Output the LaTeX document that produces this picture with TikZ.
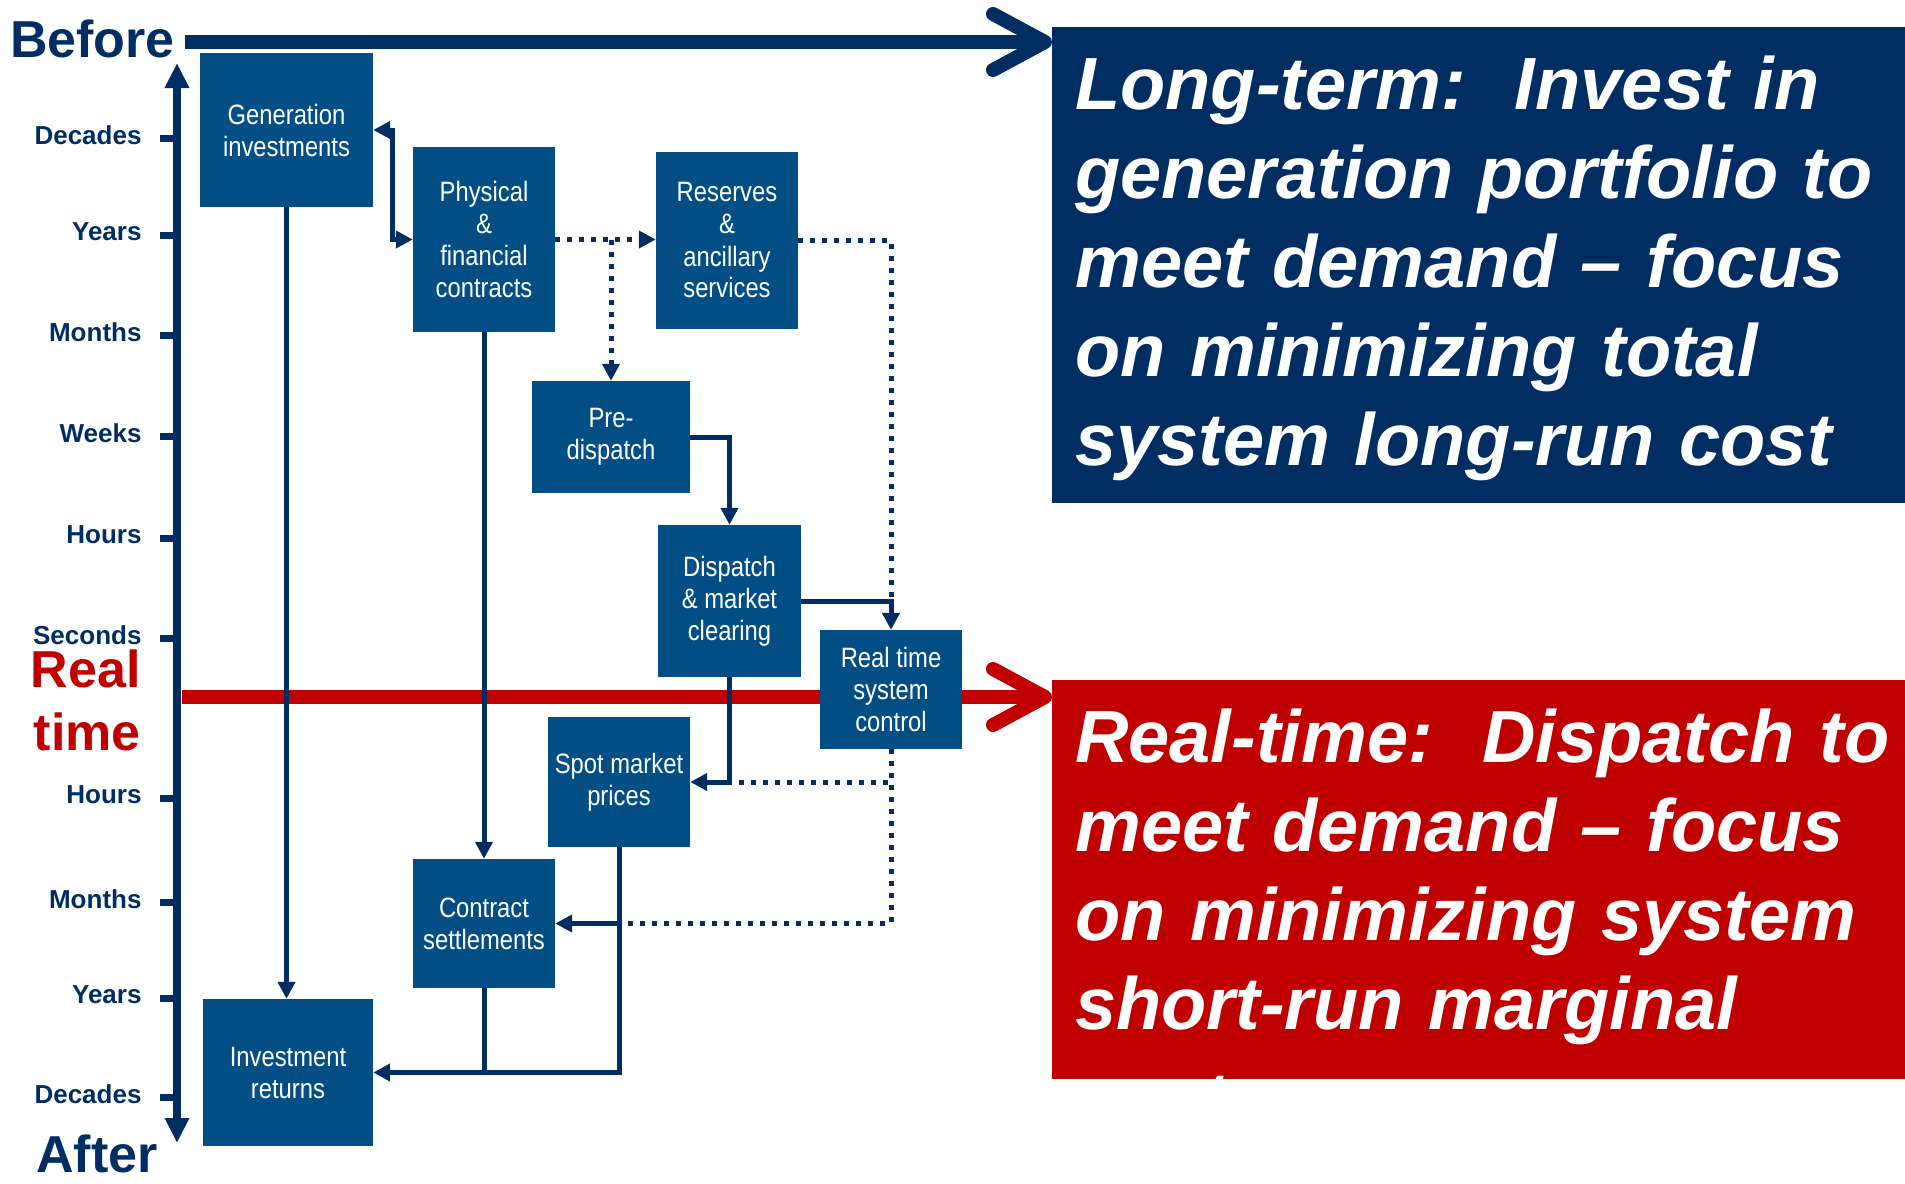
\documentclass[tikz,border=0pt]{standalone}
\usepackage{fontspec}
\setmainfont{Liberation Sans}
\newfontfamily\narrowfont[FakeStretch=0.85]{Liberation Sans}
\usetikzlibrary{arrows.meta, positioning}
\definecolor{navy}{RGB}{0,46,98}
\definecolor{boxblue}{RGB}{2,78,133}
\definecolor{rtred}{RGB}{192,0,0}
\tikzstyle{block} = [rectangle, fill=boxblue, text=white, inner sep=0pt, align=center, font=\narrowfont\fontsize{28}{32}\selectfont]
\tikzstyle{summary} = [rectangle, text=white, anchor=north west, inner xsep=23pt, inner ysep=29pt, text width=830pt, align=left, font=\bfseries\itshape\fontsize{74}{89}\selectfont\frenchspacing]
\tikzstyle{era} = [inner sep=0pt, text=navy, font=\bfseries\fontsize{52}{63}\selectfont]
\tikzstyle{timescale} = [inner sep=0pt, text=navy, font=\bfseries\fontsize{26}{30}\selectfont]
\tikzstyle{tickmark} = [line width=7pt, navy]
\tikzstyle{time axis} = [{Triangle[length=25pt, width=23pt]}-{Triangle[length=25pt, width=23pt]}, line width=8pt, navy]
\tikzstyle{timeline} = [-{Straight Barb[round, length=52pt, width=56pt]}, line width=14pt]
\tikzstyle{link} = [-{Triangle[length=17pt, width=17pt]}, line width=5pt, navy]
\tikzstyle{dotted link} = [link, dash pattern=on 5pt off 7pt]

\begin{document}
\begin{tikzpicture}[x=1pt, y=-1pt]
    \useasboundingbox (0,0) rectangle (1905,1183);

    % Goals on the right.
    \begin{scope}
        \clip (1052,27) rectangle (1905,502);
        \node (long term) [summary, fill=navy] at (1052,27) {Long-term:~ Invest in\\generation portfolio to\\meet demand – focus\\on minimizing total\\system long-run cost};
    \end{scope}
    \begin{scope}
        \clip (1052,680) rectangle (1905,1078);
        \node (real time) [summary, fill=rtred] at (1052,680) {Real-time:~ Dispatch to\\meet demand – focus\\on minimizing system\\short-run marginal\\[6pt]cost};
    \end{scope}

    % Time axis.
    \node (before) [era, anchor=base west] at (10,57) {Before};
    \node (after) [era, anchor=base west] at (36,1172) {After};
    \node (now label) [era, text=rtred, align=right, anchor=north east] at (141,650) {Real\\time};

    \coordinate (axis top) at (177,63);
    \coordinate (axis bottom) at (177,1143);
    \draw [time axis] (axis bottom) -- (axis top);
    \foreach \y/\t in {138/Decades, 235/Years, 335/Months, 436/Weeks, 538/Hours, 638/Seconds, 798/Hours, 902/Months, 998/Years, 1097/Decades} {%
        \draw [tickmark] (177,\y) -- ++(-17,0) node [timescale, left=15pt, yshift=3pt] {\t};
    }

    \coordinate (then) at (185,42);
    \coordinate (now) at (182,697);
    \draw [timeline, navy] (then) -- (then -| long term.west);
    \draw [timeline, rtred] (now) -- (now -| real time.west);

    % Market stages.
    \node (gen) [block, minimum width=173pt, minimum height=154pt] at (286.5,130) {Generation\\investments};
    \node (phys) [block, minimum width=142pt, minimum height=185pt] at (484,239.5) {Physical\\\&\\financial\\contracts};
    \node (reserves) [block, minimum width=142pt, minimum height=177pt] at (727,240.5) {Reserves\\\&\\ancillary\\services};
    \node (pre) [block, minimum width=158pt, minimum height=112pt] at (611,437) {Pre-\\dispatch};
    \node (dispatch) [block, minimum width=143pt, minimum height=152pt] at (729.5,601) {Dispatch\\\& market\\clearing};
    \node (control) [block, minimum width=142pt, minimum height=119pt] at (891,689.5) {Real time\\system\\control};
    \node (spot) [block, minimum width=142pt, minimum height=130pt] at (619,782) {Spot market\\prices};
    \node (settle) [block, minimum width=142pt, minimum height=129pt] at (484,923.5) {Contract\\settlements};
    \node (returns) [block, minimum width=170pt, minimum height=147pt] at (288,1072.5) {Investment\\returns};

    \coordinate (branch) at (pre.north |- phys.east);
    \coordinate (merge) at (control.north |- dispatch.east);
    \coordinate (price tap) at (dispatch.south |- spot.east);
    \coordinate (settle tap) at (spot.south |- settle.east);
    \coordinate (payout) at (settle.south |- returns.east);

    % Dotted links.
    \draw [dotted link] (phys.east) -- (phys.east -| reserves.west);
    \draw [dotted link] (branch) -- (pre.north);
    \draw [dotted link, -] (reserves.east) -| (merge);
    \draw [dotted link, -] (control.south) |- (price tap);
    \draw [dotted link, -] (control.south) |- (settle tap);

    % Solid links.
    \draw [link, {Triangle[length=17pt, width=17pt]}-{Triangle[length=17pt, width=17pt]}] (gen.east) -- ++(19,0) |- (phys.west);
    \draw [link] (gen.south) -- (gen.south |- returns.north);
    \draw [link] (phys.south) -- (settle.north);
    \draw [link] (pre.east) -| (dispatch.north);
    \draw [link] (dispatch.east) -| (control.north);
    \draw [link] (dispatch.south) |- (spot.east);
    \draw [link] (settle tap) -- (settle.east);
    \draw [link] (spot.south) |- (returns.east);
    \draw [link, -] (settle.south) -- (payout);
\end{tikzpicture}
\end{document}
